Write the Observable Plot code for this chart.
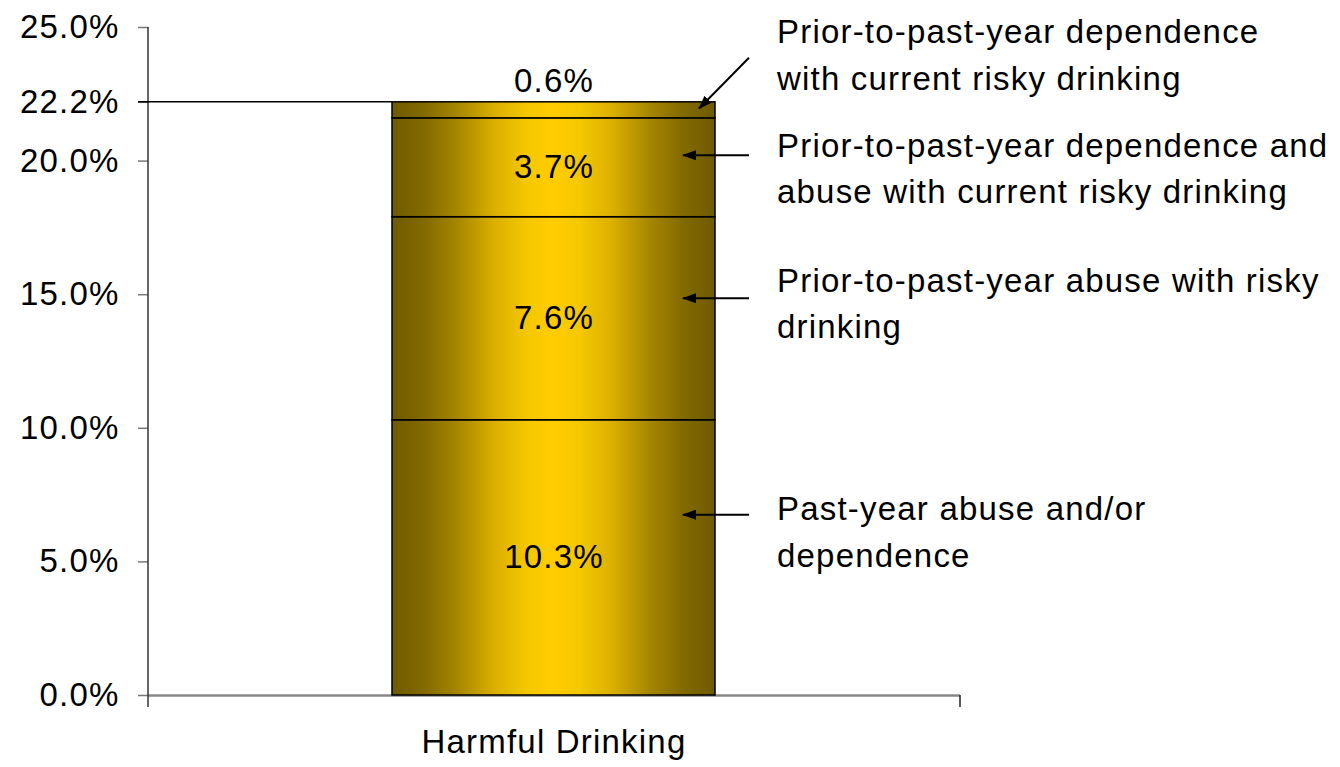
<!DOCTYPE html>
<html><head><meta charset="utf-8">
<script src="https://cdn.jsdelivr.net/npm/d3@7"></script>
<script src="https://cdn.jsdelivr.net/npm/@observablehq/plot@0.6"></script>
<style>
html,body{margin:0;padding:0;background:#fff;}
#chart svg{display:block;}
</style></head><body><div id="chart"></div>
<script>
const category = "Harmful Drinking";
const segmentNames = ["Past-year abuse and/or dependence", "Prior-to-past-year abuse with risky drinking", "Prior-to-past-year dependence and abuse with current risky drinking", "Prior-to-past-year dependence with current risky drinking"];
const segmentValues = [10.3, 7.6, 3.7, 0.6];
const annotationText = ["Past-year abuse and/or\ndependence", "Prior-to-past-year abuse with risky\ndrinking", "Prior-to-past-year dependence and\nabuse with current risky drinking", "Prior-to-past-year dependence\nwith current risky drinking"];
const annotationTextY = [6.25, 14.8, 19.85, 24.1];
const arrowTailY = [6.75, 14.85, 20.2, 23.85];
const arrowHeadY = [6.75, 14.85, 20.2, 21.95];
const yTicks = [0, 5, 10, 15, 20, 22.2, 25];
const totalValue = 22.2;

let acc = 0;
const rows = segmentValues.map((v, i) => {
  const r = {category, name: segmentNames[i], value: v, y1: acc, y2: acc + v};
  acc += v;
  return r;
});
const annotations = annotationText.map((t, i) => ({category, text: t, y: annotationTextY[i], tail: arrowTailY[i], head: arrowHeadY[i], i}));
const fmt = d => d.toFixed(1) + "%";
const FS = 33;

const chart = Plot.plot({
  width: 1340, height: 767,
  marginLeft: 148, marginRight: 380, marginTop: 27, marginBottom: 72,
  style: {fontFamily: "'Liberation Sans', Arial, sans-serif", fontSize: FS + "px", background: "white", color: "black", overflow: "visible"},
  x: {domain: [category], padding: 0.43, axis: null},
  y: {domain: [0, 25], axis: null},
  marks: [
    Plot.ruleY([0], {stroke: "#888", strokeWidth: 2.5}),
    Plot.axisY({ticks: yTicks, tickFormat: fmt, tickSize: 10, tickPadding: 19, fontSize: FS, stroke: "#777", strokeWidth: 1.5, strokeOpacity: 1}),
    Plot.barY(rows, {x: "category", y1: "y1", y2: "y2", fill: "url(#barGrad)", stroke: "black", strokeWidth: 1.5}),
    Plot.text(rows.filter(d => d.value >= 1), {x: "category", y: d => (d.y1 + d.y2) / 2, text: d => fmt(d.value), fontSize: FS, fill: "black"}),
    Plot.text(rows.filter(d => d.value < 1), {x: "category", y: "y2", dy: -21, text: d => fmt(d.value), fontSize: FS, fill: "black"}),
    Plot.text(annotations, {x: "category", y: "y", text: "text", dx: 223, textAnchor: "start", lineHeight: 1.41, fontSize: FS, fill: "black"}),
    Plot.text([category], {x: d => d, frameAnchor: "bottom", dy: 57, text: d => d, fontSize: FS, fill: "black"})
  ]
});
chart.style.letterSpacing = "1.2px";
document.getElementById("chart").appendChild(chart);

const svg = d3.select(chart);
const defs = svg.insert("defs", ":first-child");
const grad = defs.append("linearGradient").attr("id", "barGrad").attr("x1", 0).attr("x2", 1).attr("y1", 0).attr("y2", 0);
[[0, "#6e5a00"], [0.1, "#836a00"], [0.2, "#a58600"], [0.32, "#dcb000"], [0.42, "#f5c800"], [0.5, "#ffcc00"], [0.58, "#f5c800"], [0.68, "#dcb000"], [0.8, "#a58600"], [0.9, "#836a00"], [1, "#6e5a00"]]
  .forEach(([o, c]) => grad.append("stop").attr("offset", o).attr("stop-color", c));
defs.append("marker").attr("id", "ah").attr("markerUnits", "userSpaceOnUse")
  .attr("markerWidth", 14).attr("markerHeight", 10).attr("refX", 13).attr("refY", 5).attr("orient", "auto")
  .append("path").attr("d", "M0,0 L14,5 L0,10 Z").attr("fill", "black");

const xs = chart.scale("x"), ys = chart.scale("y");
const bandStart = xs.apply(category), bw = xs.bandwidth, bandEnd = bandStart + bw;
const [xr0, xr1] = xs.range;
const y0 = ys.apply(0), yTop = ys.apply(25);
const g = svg.append("g");
g.append("line").attr("x1", xr0).attr("x2", xr0).attr("y1", yTop).attr("y2", y0 + 12).attr("stroke", "#333").attr("stroke-width", 1.5);
g.append("line").attr("x1", xr1).attr("x2", xr1).attr("y1", y0).attr("y2", y0 + 12).attr("stroke", "#222").attr("stroke-width", 1.5);
g.append("line").attr("x1", xr0 - 10).attr("x2", bandStart).attr("y1", ys.apply(totalValue)).attr("y2", ys.apply(totalValue)).attr("stroke", "black").attr("stroke-width", 1.5);
annotations.forEach(a => {
  const tailX = bandEnd + 34;
  const headX = a.i === 3 ? bandEnd - 16 : bandEnd - 32;
  g.append("line").attr("x1", tailX).attr("y1", ys.apply(a.tail)).attr("x2", headX).attr("y2", ys.apply(a.head))
    .attr("stroke", "black").attr("stroke-width", 2).attr("marker-end", "url(#ah)");
});
</script></body></html>
